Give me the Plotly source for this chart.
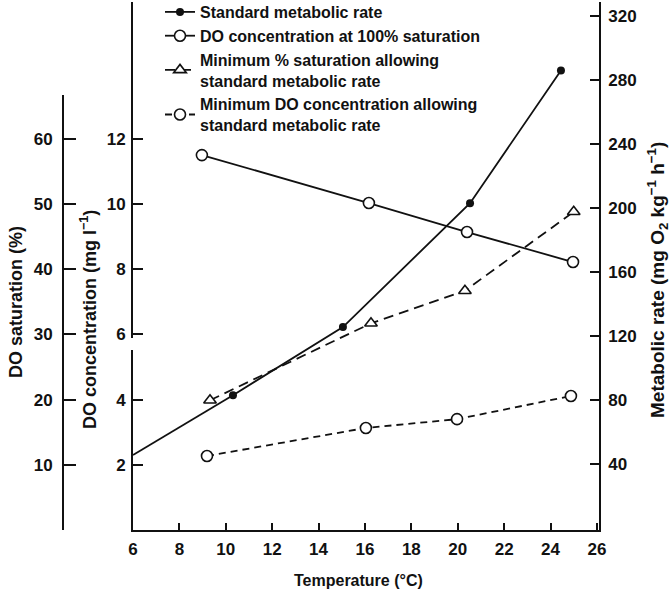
import plotly.graph_objects as go

# ---- data ----
smr_temp = [10.31, 15.05, 20.53, 24.45]
smr_rate = [83, 125.6, 203, 286]
smr_ext_temp = [6.0, 10.31]
smr_ext_rate = [45.6, 83]

do100_temp = [8.97, 16.17, 20.40, 24.97]
do100_conc = [11.5, 10.03, 9.14, 8.22]

minsat_temp = [9.32, 16.26, 20.31, 25.0]
minsat_pct = [19.9, 31.7, 36.7, 48.8]

mindo_temp = [9.19, 16.04, 19.97, 24.88]
mindo_conc = [2.27, 3.13, 3.40, 4.11]

x_ticks = [6, 8, 10, 12, 14, 16, 18, 20, 22, 24, 26]
conc_ticks = [2, 4, 6, 8, 10, 12]
sat_ticks = [10, 20, 30, 40, 50, 60]
rate_ticks = [40, 80, 120, 160, 200, 240, 280, 320]

INK = "#111111"
FONT = "Liberation Sans"

fig = go.Figure()

fig.add_trace(go.Scatter(x=smr_ext_temp, y=smr_ext_rate, yaxis="y2", mode="lines",
                         line=dict(color=INK, width=1.8), showlegend=False, hoverinfo="skip"))
fig.add_trace(go.Scatter(x=smr_temp, y=smr_rate, yaxis="y2", mode="lines+markers",
                         name="Standard metabolic rate",
                         line=dict(color=INK, width=1.8),
                         marker=dict(symbol="circle", size=8, color=INK)))
fig.add_trace(go.Scatter(x=do100_temp, y=do100_conc, yaxis="y", mode="lines+markers",
                         name="DO concentration at 100% saturation",
                         line=dict(color=INK, width=1.8),
                         marker=dict(symbol="circle", size=11, color="white",
                                     line=dict(color=INK, width=1.6))))
fig.add_trace(go.Scatter(x=minsat_temp, y=minsat_pct, xaxis="x", yaxis="y3", mode="lines+markers",
                         name="Minimum % saturation allowing<br>standard metabolic rate",
                         line=dict(color=INK, width=1.8, dash="10px,6px"),
                         marker=dict(symbol="triangle-up", size=11, color="white",
                                     line=dict(color=INK, width=1.6))))
fig.add_trace(go.Scatter(x=mindo_temp, y=mindo_conc, yaxis="y", mode="lines+markers",
                         name="Minimum DO concentration allowing<br>standard metabolic rate",
                         line=dict(color=INK, width=1.8, dash="7px,5px"),
                         marker=dict(symbol="circle", size=11, color="white",
                                     line=dict(color=INK, width=1.6))))

W, H = 672, 594
ML, MR, MT, MB = 10, 10, 2, 64
PW = W - ML - MR
PH = H - MT - MB


def px_x(px):
    return (px - ML) / PW


def px_y(py):
    return (H - MB - py) / PH


tick_font = dict(family=FONT, size=17, color=INK, weight="bold")
axis_common = dict(showgrid=False, zeroline=False, showline=True, linecolor=INK, linewidth=1.7,
                   ticks="inside", tickcolor=INK, tickwidth=1.7, tickfont=tick_font)

fig.update_layout(
    width=W, height=H,
    margin=dict(l=ML, r=MR, t=MT, b=MB, autoexpand=False),
    paper_bgcolor="white", plot_bgcolor="rgba(0,0,0,0)",
    font=dict(family=FONT, color=INK),
    xaxis=dict(domain=[px_x(133), px_x(599)], range=[6, 26.09], tickvals=x_ticks,
               ticklen=7, anchor="y", ticklabelstandoff=3, **axis_common),
    yaxis=dict(range=[0, PH / 32.6], tickvals=conc_ticks, ticklen=10, anchor="x",
               ticklabelstandoff=2, **axis_common),
    yaxis2=dict(range=[-2 / 1.6, (PH - 2) / 1.6], tickvals=rate_ticks, ticklen=9,
                overlaying="y", side="right", anchor="x", ticklabelstandoff=4, **axis_common),
    yaxis3=dict(domain=[0, px_y(95)], range=[0, 435 / 6.52], tickvals=sat_ticks, ticklen=12,
                anchor="free", position=px_x(63), side="left", ticklabelstandoff=6,
                **axis_common),
    legend=dict(x=px_x(160), y=px_y(-5), xanchor="left", yanchor="top",
                bgcolor="rgba(0,0,0,0)",
                font=dict(family=FONT, size=16, color=INK, weight="bold"),
                itemwidth=30, tracegroupgap=0),
    showlegend=True,
)

# small break in the DO-concentration axis line just below the "6" tick
fig.add_shape(type="line", xref="paper", yref="y", x0=px_x(133), x1=px_x(133),
              y0=(530 - 350) / 32.6, y1=(530 - 338) / 32.6,
              line=dict(color="white", width=4), layer="above")

ann_font = dict(family=FONT, size=18, color=INK, weight="bold")
fig.add_annotation(text="Temperature (°C)", x=px_x(358), y=px_y(580), xref="paper", yref="paper",
                   showarrow=False, font=dict(family=FONT, size=16, color=INK, weight="bold"),
                   xanchor="center", yanchor="middle")
fig.add_annotation(text="DO saturation (%)", x=px_x(16), y=px_y(302), xref="paper", yref="paper",
                   showarrow=False, font=ann_font, textangle=-90, xanchor="center", yanchor="middle")
fig.add_annotation(text="DO concentration (mg l<sup>−1</sup>)", x=px_x(88), y=px_y(320),
                   xref="paper", yref="paper", showarrow=False, font=ann_font, textangle=-90,
                   xanchor="center", yanchor="middle")
fig.add_annotation(text="Metabolic rate (mg O<sub>2</sub> kg<sup>−1</sup> h<sup>−1</sup>)",
                   x=px_x(657), y=px_y(280), xref="paper", yref="paper", showarrow=False,
                   font=dict(family=FONT, size=19, color=INK, weight="bold"),
                   textangle=-90, xanchor="center", yanchor="middle")

fig.write_html("out.html", config={"displayModeBar": False},
               post_script="document.body.style.margin='0';document.body.style.overflow='hidden';")
